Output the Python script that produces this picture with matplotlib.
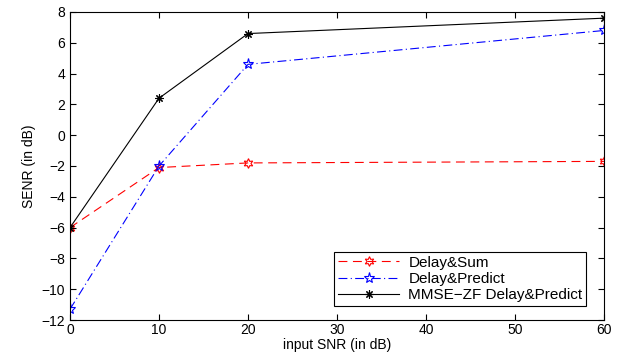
import matplotlib
matplotlib.use("Agg")
import matplotlib.pyplot as plt

snr = [0, 10, 20, 60]
delay_sum = [-6.0, -2.1, -1.8, -1.7]
delay_predict = [-11.3, -2.0, 4.6, 6.8]
mmse_zf = [-6.0, 2.4, 6.6, 7.6]
xticks = [0, 10, 20, 30, 40, 50, 60]
yticks = list(range(-12, 9, 2))

plt.rcParams['font.family'] = ['Liberation Sans', 'DejaVu Sans']
fig = plt.figure(figsize=(6.19, 3.54), dpi=100)
ax = fig.add_axes([70/619, 1-320/354, 534/619, 308/354])

ax.plot(snr, delay_sum, color='red', linestyle=(0, (8, 5)), linewidth=0.8,
        marker=(6, 1, 0), markersize=7, markerfacecolor='none', markeredgecolor='red',
        markeredgewidth=0.8, label='Delay&Sum')
ax.plot(snr, delay_predict, color='blue', linestyle=(0, (8, 3, 1, 3)), linewidth=0.8,
        marker='*', markersize=8, markerfacecolor='none', markeredgecolor='blue',
        markeredgewidth=0.8, label='Delay&Predict')
ax.plot(snr, mmse_zf, color='black', linestyle='-', linewidth=0.8,
        marker=(8, 2, 0), markersize=6, markeredgewidth=0.8,
        label='MMSE\u2212ZF Delay&Predict')

ax.set_xlim(0, 60)
ax.set_ylim(-12, 8)
ax.set_xticks(xticks)
ax.set_yticks(yticks)
ax.set_yticklabels([str(v).replace('-', '\u2212') for v in yticks])
ax.tick_params(direction='in', top=True, right=True, labelsize=10, length=4, width=0.8)
ax.tick_params(axis='x', pad=2)
for s in ax.spines.values():
    s.set_linewidth(0.8)
ax.set_xlabel('input SNR (in dB)', fontsize=10, labelpad=1)
ax.set_ylabel('SENR (in dB)', fontsize=10, labelpad=4)

leg = ax.legend(loc='lower right', bbox_to_anchor=(584/604 - 0.0, 14/308), fontsize=11,
                frameon=True, fancybox=False, edgecolor='black', framealpha=1,
                handlelength=4.0, borderpad=0.25, labelspacing=0.15, borderaxespad=0.0,
                handletextpad=0.6)
leg.get_frame().set_linewidth(0.8)

fig.savefig('out.png', dpi=100)
